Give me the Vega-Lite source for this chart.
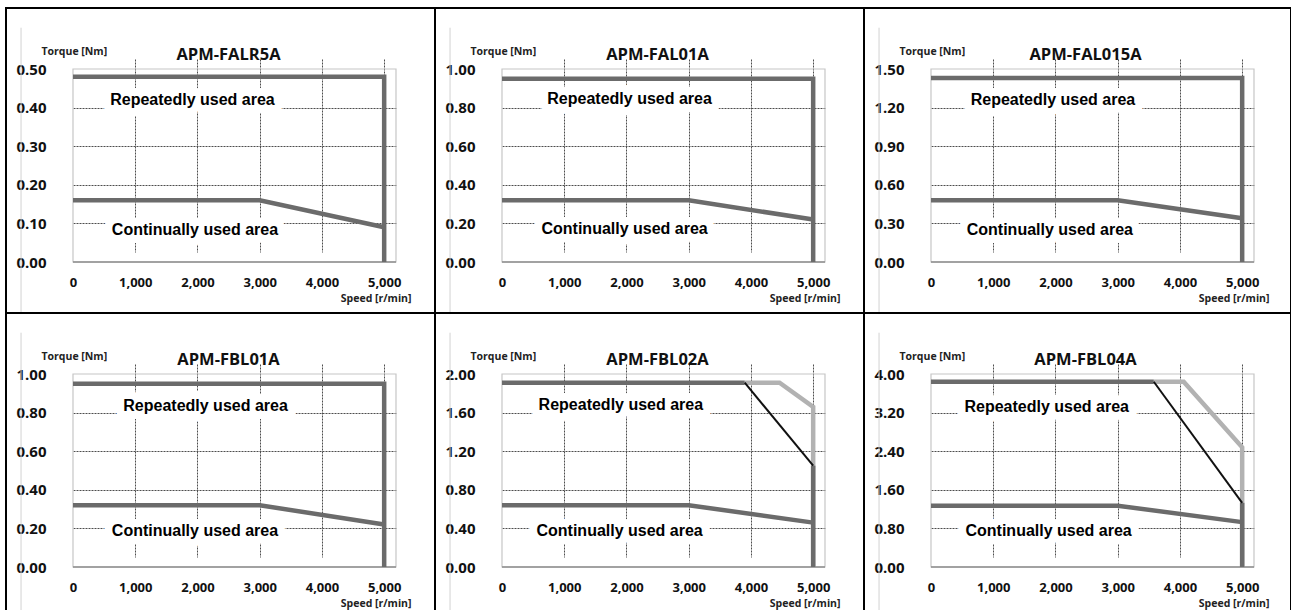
{
  "$schema": "https://vega.github.io/schema/vega-lite/v6.json",
  "background": "white",
  "padding": {"left": 5, "top": 7, "right": 0, "bottom": 0},
  "datasets": {
    "curves": [
      {"panel": "APM-FALR5A", "series": "dark", "seg": "peak", "order": 1, "speed": 0, "torque": 0.48},
      {"panel": "APM-FALR5A", "series": "dark", "seg": "peak", "order": 2, "speed": 5000, "torque": 0.48},
      {"panel": "APM-FALR5A", "series": "dark", "seg": "peak", "order": 3, "speed": 5000, "torque": 0},
      {"panel": "APM-FALR5A", "series": "dark", "seg": "cont", "order": 1, "speed": 0, "torque": 0.16},
      {"panel": "APM-FALR5A", "series": "dark", "seg": "cont", "order": 2, "speed": 3000, "torque": 0.16},
      {"panel": "APM-FALR5A", "series": "dark", "seg": "cont", "order": 3, "speed": 5000, "torque": 0.09},

      {"panel": "APM-FAL01A", "series": "dark", "seg": "peak", "order": 1, "speed": 0, "torque": 0.95},
      {"panel": "APM-FAL01A", "series": "dark", "seg": "peak", "order": 2, "speed": 5000, "torque": 0.95},
      {"panel": "APM-FAL01A", "series": "dark", "seg": "peak", "order": 3, "speed": 5000, "torque": 0},
      {"panel": "APM-FAL01A", "series": "dark", "seg": "cont", "order": 1, "speed": 0, "torque": 0.32},
      {"panel": "APM-FAL01A", "series": "dark", "seg": "cont", "order": 2, "speed": 3000, "torque": 0.32},
      {"panel": "APM-FAL01A", "series": "dark", "seg": "cont", "order": 3, "speed": 5000, "torque": 0.22},

      {"panel": "APM-FAL015A", "series": "dark", "seg": "peak", "order": 1, "speed": 0, "torque": 1.43},
      {"panel": "APM-FAL015A", "series": "dark", "seg": "peak", "order": 2, "speed": 5000, "torque": 1.43},
      {"panel": "APM-FAL015A", "series": "dark", "seg": "peak", "order": 3, "speed": 5000, "torque": 0},
      {"panel": "APM-FAL015A", "series": "dark", "seg": "cont", "order": 1, "speed": 0, "torque": 0.48},
      {"panel": "APM-FAL015A", "series": "dark", "seg": "cont", "order": 2, "speed": 3000, "torque": 0.48},
      {"panel": "APM-FAL015A", "series": "dark", "seg": "cont", "order": 3, "speed": 5000, "torque": 0.34},

      {"panel": "APM-FBL01A", "series": "dark", "seg": "peak", "order": 1, "speed": 0, "torque": 0.95},
      {"panel": "APM-FBL01A", "series": "dark", "seg": "peak", "order": 2, "speed": 5000, "torque": 0.95},
      {"panel": "APM-FBL01A", "series": "dark", "seg": "peak", "order": 3, "speed": 5000, "torque": 0},
      {"panel": "APM-FBL01A", "series": "dark", "seg": "cont", "order": 1, "speed": 0, "torque": 0.32},
      {"panel": "APM-FBL01A", "series": "dark", "seg": "cont", "order": 2, "speed": 3000, "torque": 0.32},
      {"panel": "APM-FBL01A", "series": "dark", "seg": "cont", "order": 3, "speed": 5000, "torque": 0.22},

      {"panel": "APM-FBL02A", "series": "light", "seg": "peak2", "order": 1, "speed": 3900, "torque": 1.91},
      {"panel": "APM-FBL02A", "series": "light", "seg": "peak2", "order": 2, "speed": 4460, "torque": 1.91},
      {"panel": "APM-FBL02A", "series": "light", "seg": "peak2", "order": 3, "speed": 5000, "torque": 1.66},
      {"panel": "APM-FBL02A", "series": "light", "seg": "peak2", "order": 4, "speed": 5000, "torque": 0},
      {"panel": "APM-FBL02A", "series": "dark", "seg": "peak", "order": 1, "speed": 0, "torque": 1.91},
      {"panel": "APM-FBL02A", "series": "dark", "seg": "peak", "order": 2, "speed": 3900, "torque": 1.91},
      {"panel": "APM-FBL02A", "series": "dark", "seg": "peakV", "order": 1, "speed": 5000, "torque": 1.05},
      {"panel": "APM-FBL02A", "series": "dark", "seg": "peakV", "order": 2, "speed": 5000, "torque": 0},
      {"panel": "APM-FBL02A", "series": "dark", "seg": "cont", "order": 1, "speed": 0, "torque": 0.64},
      {"panel": "APM-FBL02A", "series": "dark", "seg": "cont", "order": 2, "speed": 3000, "torque": 0.64},
      {"panel": "APM-FBL02A", "series": "dark", "seg": "cont", "order": 3, "speed": 5000, "torque": 0.46},
      {"panel": "APM-FBL02A", "series": "black", "seg": "peak1", "order": 1, "speed": 3900, "torque": 1.91},
      {"panel": "APM-FBL02A", "series": "black", "seg": "peak1", "order": 2, "speed": 5000, "torque": 1.05},

      {"panel": "APM-FBL04A", "series": "light", "seg": "peak2", "order": 1, "speed": 3580, "torque": 3.84},
      {"panel": "APM-FBL04A", "series": "light", "seg": "peak2", "order": 2, "speed": 4060, "torque": 3.84},
      {"panel": "APM-FBL04A", "series": "light", "seg": "peak2", "order": 3, "speed": 5000, "torque": 2.48},
      {"panel": "APM-FBL04A", "series": "light", "seg": "peak2", "order": 4, "speed": 5000, "torque": 0},
      {"panel": "APM-FBL04A", "series": "dark", "seg": "peak", "order": 1, "speed": 0, "torque": 3.84},
      {"panel": "APM-FBL04A", "series": "dark", "seg": "peak", "order": 2, "speed": 3580, "torque": 3.84},
      {"panel": "APM-FBL04A", "series": "dark", "seg": "peakV", "order": 1, "speed": 5000, "torque": 1.33},
      {"panel": "APM-FBL04A", "series": "dark", "seg": "peakV", "order": 2, "speed": 5000, "torque": 0},
      {"panel": "APM-FBL04A", "series": "dark", "seg": "cont", "order": 1, "speed": 0, "torque": 1.27},
      {"panel": "APM-FBL04A", "series": "dark", "seg": "cont", "order": 2, "speed": 3000, "torque": 1.27},
      {"panel": "APM-FBL04A", "series": "dark", "seg": "cont", "order": 3, "speed": 5000, "torque": 0.93},
      {"panel": "APM-FBL04A", "series": "black", "seg": "peak1", "order": 1, "speed": 3580, "torque": 3.84},
      {"panel": "APM-FBL04A", "series": "black", "seg": "peak1", "order": 2, "speed": 5000, "torque": 1.33}
    ],
    "labels": [
      {"panel": "APM-FALR5A", "label": "Repeatedly used area", "speed": 1920, "torque": 0.42},
      {"panel": "APM-FALR5A", "label": "Continually used area", "speed": 1960, "torque": 0.083},
      {"panel": "APM-FAL01A", "label": "Repeatedly used area", "speed": 2050, "torque": 0.844},
      {"panel": "APM-FAL01A", "label": "Continually used area", "speed": 1970, "torque": 0.17},
      {"panel": "APM-FAL015A", "label": "Repeatedly used area", "speed": 1960, "torque": 1.26},
      {"panel": "APM-FAL015A", "label": "Continually used area", "speed": 1910, "torque": 0.252},
      {"panel": "APM-FBL01A", "label": "Repeatedly used area", "speed": 2130, "torque": 0.833},
      {"panel": "APM-FBL01A", "label": "Continually used area", "speed": 1960, "torque": 0.187},
      {"panel": "APM-FBL02A", "label": "Repeatedly used area", "speed": 1910, "torque": 1.68},
      {"panel": "APM-FBL02A", "label": "Continually used area", "speed": 1890, "torque": 0.374},
      {"panel": "APM-FBL04A", "label": "Repeatedly used area", "speed": 1860, "torque": 3.32},
      {"panel": "APM-FBL04A", "label": "Continually used area", "speed": 1890, "torque": 0.748}
    ]
  },
  "columns": 3,
  "spacing": 0,
  "bounds": "flush",
  "concat": [
    {
      "width": 429, "height": 305,
      "title": {"text": "APM-FALR5A"},
      "layer": [
        {"data": {"values": [{}]}, "mark": {"type": "rect", "filled": false, "color": "#c6c6c6", "strokeWidth": 1.2},
         "encoding": {
           "x": {"datum": 0, "type": "quantitative", "scale": {"domain": [0, 5190], "range": [67, 390], "nice": false, "zero": false},
                 "axis": {"values": [0, 1000, 2000, 3000, 4000, 5000], "labelExpr": "format(datum.value, ',')", "title": "Speed [r/min]", "offset": -51,
                          "gridOpacity": {"condition": {"test": "datum.value === 0", "value": 0}, "value": 1}}},
           "x2": {"datum": 5190},
           "y": {"datum": 0, "type": "quantitative", "scale": {"domain": [0, 0.5], "range": [254, 61], "nice": false, "zero": false},
                 "axis": {"values": [0, 0.1, 0.2, 0.3, 0.4, 0.5], "labelExpr": "format(datum.value, '.2f')", "title": "Torque [Nm]", "offset": -10,
                          "gridOpacity": {"condition": {"test": "datum.index === 0 || datum.index === 1", "value": 0}, "value": 1}}},
           "y2": {"datum": 0.5}}},
        {"data": {"values": [{}]}, "mark": {"type": "rule", "color": "#d2d2d2", "strokeWidth": 1},
         "encoding": {"x": {"datum": -835}, "y": {"datum": 0.607}, "y2": {"datum": -0.135}}},
        {"data": {"values": [{}]}, "mark": {"type": "rule", "color": "#8c8c8c", "strokeWidth": 1.5},
         "encoding": {"x": {"datum": 0}, "x2": {"datum": 5190}, "y": {"datum": 0}}},
        {"data": {"name": "labels"}, "transform": [{"filter": "datum.panel === 'APM-FALR5A'"}],
         "mark": {"type": "text", "font": "Liberation Sans", "fontSize": 16, "fontWeight": "bold", "color": "white", "stroke": "white", "strokeWidth": 16, "strokeJoin": "round", "baseline": "middle"},
         "encoding": {"x": {"field": "speed", "type": "quantitative"}, "y": {"field": "torque", "type": "quantitative"}, "text": {"field": "label"}}},
        {"data": {"name": "labels"}, "transform": [{"filter": "datum.panel === 'APM-FALR5A'"}],
         "mark": {"type": "text", "font": "Liberation Sans", "fontSize": 16, "fontWeight": "bold", "color": "#000", "baseline": "middle"},
         "encoding": {"x": {"field": "speed", "type": "quantitative"}, "y": {"field": "torque", "type": "quantitative"}, "text": {"field": "label"}}},
        {"data": {"name": "curves"}, "transform": [{"filter": "datum.panel === 'APM-FALR5A' && datum.series === 'dark'"}],
         "mark": {"type": "line", "color": "#6b6b6b", "strokeWidth": 4.5},
         "encoding": {"x": {"field": "speed", "type": "quantitative"}, "y": {"field": "torque", "type": "quantitative"}, "detail": {"field": "seg"}, "order": {"field": "order"}}}
      ]
    },
    {
      "width": 429, "height": 305,
      "title": {"text": "APM-FAL01A"},
      "layer": [
        {"data": {"values": [{}]}, "mark": {"type": "rect", "filled": false, "color": "#c6c6c6", "strokeWidth": 1.2},
         "encoding": {
           "x": {"datum": 0, "type": "quantitative", "scale": {"domain": [0, 5190], "range": [67, 390], "nice": false, "zero": false},
                 "axis": {"values": [0, 1000, 2000, 3000, 4000, 5000], "labelExpr": "format(datum.value, ',')", "title": "Speed [r/min]", "offset": -51,
                          "gridOpacity": {"condition": {"test": "datum.value === 0", "value": 0}, "value": 1}}},
           "x2": {"datum": 5190},
           "y": {"datum": 0, "type": "quantitative", "scale": {"domain": [0, 1.0], "range": [254, 61], "nice": false, "zero": false},
                 "axis": {"values": [0, 0.2, 0.4, 0.6, 0.8, 1.0], "labelExpr": "format(datum.value, '.2f')", "title": "Torque [Nm]", "offset": -10,
                          "gridOpacity": {"condition": {"test": "datum.index === 0 || datum.index === 1", "value": 0}, "value": 1}}},
           "y2": {"datum": 1.0}}},
        {"data": {"values": [{}]}, "mark": {"type": "rule", "color": "#d2d2d2", "strokeWidth": 1},
         "encoding": {"x": {"datum": -835}, "y": {"datum": 1.214}, "y2": {"datum": -0.27}}},
        {"data": {"values": [{}]}, "mark": {"type": "rule", "color": "#8c8c8c", "strokeWidth": 1.5},
         "encoding": {"x": {"datum": 0}, "x2": {"datum": 5190}, "y": {"datum": 0}}},
        {"data": {"name": "labels"}, "transform": [{"filter": "datum.panel === 'APM-FAL01A'"}],
         "mark": {"type": "text", "font": "Liberation Sans", "fontSize": 16, "fontWeight": "bold", "color": "white", "stroke": "white", "strokeWidth": 16, "strokeJoin": "round", "baseline": "middle"},
         "encoding": {"x": {"field": "speed", "type": "quantitative"}, "y": {"field": "torque", "type": "quantitative"}, "text": {"field": "label"}}},
        {"data": {"name": "labels"}, "transform": [{"filter": "datum.panel === 'APM-FAL01A'"}],
         "mark": {"type": "text", "font": "Liberation Sans", "fontSize": 16, "fontWeight": "bold", "color": "#000", "baseline": "middle"},
         "encoding": {"x": {"field": "speed", "type": "quantitative"}, "y": {"field": "torque", "type": "quantitative"}, "text": {"field": "label"}}},
        {"data": {"name": "curves"}, "transform": [{"filter": "datum.panel === 'APM-FAL01A' && datum.series === 'dark'"}],
         "mark": {"type": "line", "color": "#6b6b6b", "strokeWidth": 4.5},
         "encoding": {"x": {"field": "speed", "type": "quantitative"}, "y": {"field": "torque", "type": "quantitative"}, "detail": {"field": "seg"}, "order": {"field": "order"}}}
      ]
    },
    {
      "width": 427, "height": 305,
      "title": {"text": "APM-FAL015A"},
      "layer": [
        {"data": {"values": [{}]}, "mark": {"type": "rect", "filled": false, "color": "#c6c6c6", "strokeWidth": 1.2},
         "encoding": {
           "x": {"datum": 0, "type": "quantitative", "scale": {"domain": [0, 5190], "range": [67, 390], "nice": false, "zero": false},
                 "axis": {"values": [0, 1000, 2000, 3000, 4000, 5000], "labelExpr": "format(datum.value, ',')", "title": "Speed [r/min]", "offset": -51,
                          "gridOpacity": {"condition": {"test": "datum.value === 0", "value": 0}, "value": 1}}},
           "x2": {"datum": 5190},
           "y": {"datum": 0, "type": "quantitative", "scale": {"domain": [0, 1.5], "range": [254, 61], "nice": false, "zero": false},
                 "axis": {"values": [0, 0.3, 0.6, 0.9, 1.2, 1.5], "labelExpr": "format(datum.value, '.2f')", "title": "Torque [Nm]", "offset": -10,
                          "gridOpacity": {"condition": {"test": "datum.index === 0 || datum.index === 1", "value": 0}, "value": 1}}},
           "y2": {"datum": 1.5}}},
        {"data": {"values": [{}]}, "mark": {"type": "rule", "color": "#d2d2d2", "strokeWidth": 1},
         "encoding": {"x": {"datum": -835}, "y": {"datum": 1.821}, "y2": {"datum": -0.405}}},
        {"data": {"values": [{}]}, "mark": {"type": "rule", "color": "#8c8c8c", "strokeWidth": 1.5},
         "encoding": {"x": {"datum": 0}, "x2": {"datum": 5190}, "y": {"datum": 0}}},
        {"data": {"name": "labels"}, "transform": [{"filter": "datum.panel === 'APM-FAL015A'"}],
         "mark": {"type": "text", "font": "Liberation Sans", "fontSize": 16, "fontWeight": "bold", "color": "white", "stroke": "white", "strokeWidth": 16, "strokeJoin": "round", "baseline": "middle"},
         "encoding": {"x": {"field": "speed", "type": "quantitative"}, "y": {"field": "torque", "type": "quantitative"}, "text": {"field": "label"}}},
        {"data": {"name": "labels"}, "transform": [{"filter": "datum.panel === 'APM-FAL015A'"}],
         "mark": {"type": "text", "font": "Liberation Sans", "fontSize": 16, "fontWeight": "bold", "color": "#000", "baseline": "middle"},
         "encoding": {"x": {"field": "speed", "type": "quantitative"}, "y": {"field": "torque", "type": "quantitative"}, "text": {"field": "label"}}},
        {"data": {"name": "curves"}, "transform": [{"filter": "datum.panel === 'APM-FAL015A' && datum.series === 'dark'"}],
         "mark": {"type": "line", "color": "#6b6b6b", "strokeWidth": 4.5},
         "encoding": {"x": {"field": "speed", "type": "quantitative"}, "y": {"field": "torque", "type": "quantitative"}, "detail": {"field": "seg"}, "order": {"field": "order"}}}
      ]
    },
    {
      "width": 429, "height": 305,
      "title": {"text": "APM-FBL01A"},
      "layer": [
        {"data": {"values": [{}]}, "mark": {"type": "rect", "filled": false, "color": "#c6c6c6", "strokeWidth": 1.2},
         "encoding": {
           "x": {"datum": 0, "type": "quantitative", "scale": {"domain": [0, 5190], "range": [67, 390], "nice": false, "zero": false},
                 "axis": {"values": [0, 1000, 2000, 3000, 4000, 5000], "labelExpr": "format(datum.value, ',')", "title": "Speed [r/min]", "offset": -51,
                          "gridOpacity": {"condition": {"test": "datum.value === 0", "value": 0}, "value": 1}}},
           "x2": {"datum": 5190},
           "y": {"datum": 0, "type": "quantitative", "scale": {"domain": [0, 1.0], "range": [254, 61], "nice": false, "zero": false},
                 "axis": {"values": [0, 0.2, 0.4, 0.6, 0.8, 1.0], "labelExpr": "format(datum.value, '.2f')", "title": "Torque [Nm]", "offset": -10,
                          "gridOpacity": {"condition": {"test": "datum.index === 0 || datum.index === 1", "value": 0}, "value": 1}}},
           "y2": {"datum": 1.0}}},
        {"data": {"values": [{}]}, "mark": {"type": "rule", "color": "#d2d2d2", "strokeWidth": 1},
         "encoding": {"x": {"datum": -835}, "y": {"datum": 1.214}, "y2": {"datum": -0.27}}},
        {"data": {"values": [{}]}, "mark": {"type": "rule", "color": "#8c8c8c", "strokeWidth": 1.5},
         "encoding": {"x": {"datum": 0}, "x2": {"datum": 5190}, "y": {"datum": 0}}},
        {"data": {"name": "labels"}, "transform": [{"filter": "datum.panel === 'APM-FBL01A'"}],
         "mark": {"type": "text", "font": "Liberation Sans", "fontSize": 16, "fontWeight": "bold", "color": "white", "stroke": "white", "strokeWidth": 16, "strokeJoin": "round", "baseline": "middle"},
         "encoding": {"x": {"field": "speed", "type": "quantitative"}, "y": {"field": "torque", "type": "quantitative"}, "text": {"field": "label"}}},
        {"data": {"name": "labels"}, "transform": [{"filter": "datum.panel === 'APM-FBL01A'"}],
         "mark": {"type": "text", "font": "Liberation Sans", "fontSize": 16, "fontWeight": "bold", "color": "#000", "baseline": "middle"},
         "encoding": {"x": {"field": "speed", "type": "quantitative"}, "y": {"field": "torque", "type": "quantitative"}, "text": {"field": "label"}}},
        {"data": {"name": "curves"}, "transform": [{"filter": "datum.panel === 'APM-FBL01A' && datum.series === 'dark'"}],
         "mark": {"type": "line", "color": "#6b6b6b", "strokeWidth": 4.5},
         "encoding": {"x": {"field": "speed", "type": "quantitative"}, "y": {"field": "torque", "type": "quantitative"}, "detail": {"field": "seg"}, "order": {"field": "order"}}}
      ]
    },
    {
      "width": 429, "height": 305,
      "title": {"text": "APM-FBL02A"},
      "layer": [
        {"data": {"values": [{}]}, "mark": {"type": "rect", "filled": false, "color": "#c6c6c6", "strokeWidth": 1.2},
         "encoding": {
           "x": {"datum": 0, "type": "quantitative", "scale": {"domain": [0, 5190], "range": [67, 390], "nice": false, "zero": false},
                 "axis": {"values": [0, 1000, 2000, 3000, 4000, 5000], "labelExpr": "format(datum.value, ',')", "title": "Speed [r/min]", "offset": -51,
                          "gridOpacity": {"condition": {"test": "datum.value === 0", "value": 0}, "value": 1}}},
           "x2": {"datum": 5190},
           "y": {"datum": 0, "type": "quantitative", "scale": {"domain": [0, 2.0], "range": [254, 61], "nice": false, "zero": false},
                 "axis": {"values": [0, 0.4, 0.8, 1.2, 1.6, 2.0], "labelExpr": "format(datum.value, '.2f')", "title": "Torque [Nm]", "offset": -10,
                          "gridOpacity": {"condition": {"test": "datum.index === 0 || datum.index === 1", "value": 0}, "value": 1}}},
           "y2": {"datum": 2.0}}},
        {"data": {"values": [{}]}, "mark": {"type": "rule", "color": "#d2d2d2", "strokeWidth": 1},
         "encoding": {"x": {"datum": -835}, "y": {"datum": 2.428}, "y2": {"datum": -0.54}}},
        {"data": {"values": [{}]}, "mark": {"type": "rule", "color": "#8c8c8c", "strokeWidth": 1.5},
         "encoding": {"x": {"datum": 0}, "x2": {"datum": 5190}, "y": {"datum": 0}}},
        {"data": {"name": "labels"}, "transform": [{"filter": "datum.panel === 'APM-FBL02A'"}],
         "mark": {"type": "text", "font": "Liberation Sans", "fontSize": 16, "fontWeight": "bold", "color": "white", "stroke": "white", "strokeWidth": 16, "strokeJoin": "round", "baseline": "middle"},
         "encoding": {"x": {"field": "speed", "type": "quantitative"}, "y": {"field": "torque", "type": "quantitative"}, "text": {"field": "label"}}},
        {"data": {"name": "labels"}, "transform": [{"filter": "datum.panel === 'APM-FBL02A'"}],
         "mark": {"type": "text", "font": "Liberation Sans", "fontSize": 16, "fontWeight": "bold", "color": "#000", "baseline": "middle"},
         "encoding": {"x": {"field": "speed", "type": "quantitative"}, "y": {"field": "torque", "type": "quantitative"}, "text": {"field": "label"}}},
        {"data": {"name": "curves"}, "transform": [{"filter": "datum.panel === 'APM-FBL02A' && datum.series === 'light'"}],
         "mark": {"type": "line", "color": "#b2b2b2", "strokeWidth": 4.5},
         "encoding": {"x": {"field": "speed", "type": "quantitative"}, "y": {"field": "torque", "type": "quantitative"}, "detail": {"field": "seg"}, "order": {"field": "order"}}},
        {"data": {"name": "curves"}, "transform": [{"filter": "datum.panel === 'APM-FBL02A' && datum.series === 'dark'"}],
         "mark": {"type": "line", "color": "#6b6b6b", "strokeWidth": 4.5},
         "encoding": {"x": {"field": "speed", "type": "quantitative"}, "y": {"field": "torque", "type": "quantitative"}, "detail": {"field": "seg"}, "order": {"field": "order"}}},
        {"data": {"name": "curves"}, "transform": [{"filter": "datum.panel === 'APM-FBL02A' && datum.series === 'black'"}],
         "mark": {"type": "line", "color": "#111111", "strokeWidth": 2},
         "encoding": {"x": {"field": "speed", "type": "quantitative"}, "y": {"field": "torque", "type": "quantitative"}, "detail": {"field": "seg"}, "order": {"field": "order"}}}
      ]
    },
    {
      "width": 427, "height": 305,
      "title": {"text": "APM-FBL04A"},
      "layer": [
        {"data": {"values": [{}]}, "mark": {"type": "rect", "filled": false, "color": "#c6c6c6", "strokeWidth": 1.2},
         "encoding": {
           "x": {"datum": 0, "type": "quantitative", "scale": {"domain": [0, 5190], "range": [67, 390], "nice": false, "zero": false},
                 "axis": {"values": [0, 1000, 2000, 3000, 4000, 5000], "labelExpr": "format(datum.value, ',')", "title": "Speed [r/min]", "offset": -51,
                          "gridOpacity": {"condition": {"test": "datum.value === 0", "value": 0}, "value": 1}}},
           "x2": {"datum": 5190},
           "y": {"datum": 0, "type": "quantitative", "scale": {"domain": [0, 4.0], "range": [254, 61], "nice": false, "zero": false},
                 "axis": {"values": [0, 0.8, 1.6, 2.4, 3.2, 4.0], "labelExpr": "format(datum.value, '.2f')", "title": "Torque [Nm]", "offset": -10,
                          "gridOpacity": {"condition": {"test": "datum.index === 0 || datum.index === 1", "value": 0}, "value": 1}}},
           "y2": {"datum": 4.0}}},
        {"data": {"values": [{}]}, "mark": {"type": "rule", "color": "#d2d2d2", "strokeWidth": 1},
         "encoding": {"x": {"datum": -835}, "y": {"datum": 4.856}, "y2": {"datum": -1.08}}},
        {"data": {"values": [{}]}, "mark": {"type": "rule", "color": "#8c8c8c", "strokeWidth": 1.5},
         "encoding": {"x": {"datum": 0}, "x2": {"datum": 5190}, "y": {"datum": 0}}},
        {"data": {"name": "labels"}, "transform": [{"filter": "datum.panel === 'APM-FBL04A'"}],
         "mark": {"type": "text", "font": "Liberation Sans", "fontSize": 16, "fontWeight": "bold", "color": "white", "stroke": "white", "strokeWidth": 16, "strokeJoin": "round", "baseline": "middle"},
         "encoding": {"x": {"field": "speed", "type": "quantitative"}, "y": {"field": "torque", "type": "quantitative"}, "text": {"field": "label"}}},
        {"data": {"name": "labels"}, "transform": [{"filter": "datum.panel === 'APM-FBL04A'"}],
         "mark": {"type": "text", "font": "Liberation Sans", "fontSize": 16, "fontWeight": "bold", "color": "#000", "baseline": "middle"},
         "encoding": {"x": {"field": "speed", "type": "quantitative"}, "y": {"field": "torque", "type": "quantitative"}, "text": {"field": "label"}}},
        {"data": {"name": "curves"}, "transform": [{"filter": "datum.panel === 'APM-FBL04A' && datum.series === 'light'"}],
         "mark": {"type": "line", "color": "#b2b2b2", "strokeWidth": 4.5},
         "encoding": {"x": {"field": "speed", "type": "quantitative"}, "y": {"field": "torque", "type": "quantitative"}, "detail": {"field": "seg"}, "order": {"field": "order"}}},
        {"data": {"name": "curves"}, "transform": [{"filter": "datum.panel === 'APM-FBL04A' && datum.series === 'dark'"}],
         "mark": {"type": "line", "color": "#6b6b6b", "strokeWidth": 4.5},
         "encoding": {"x": {"field": "speed", "type": "quantitative"}, "y": {"field": "torque", "type": "quantitative"}, "detail": {"field": "seg"}, "order": {"field": "order"}}},
        {"data": {"name": "curves"}, "transform": [{"filter": "datum.panel === 'APM-FBL04A' && datum.series === 'black'"}],
         "mark": {"type": "line", "color": "#111111", "strokeWidth": 2},
         "encoding": {"x": {"field": "speed", "type": "quantitative"}, "y": {"field": "torque", "type": "quantitative"}, "detail": {"field": "seg"}, "order": {"field": "order"}}}
      ]
    }
  ],
  "config": {
    "view": {"stroke": "#000000", "strokeWidth": 2},
    "axis": {
      "ticks": false, "domain": false, "grid": true,
      "gridColor": "#4d4d4d", "gridDash": [2, 1], "gridWidth": 1,
      "labelFont": "Open Sans", "labelFontWeight": "bold", "labelColor": "#111111", "labelFlush": false, "labelOverlap": false,
      "titleFont": "Open Sans", "titleFontWeight": "bold", "titleColor": "#222222", "titleFontSize": 10.5, "titleAngle": 0
    },
    "axisX": {
      "labelFontSize": 13, "labelPadding": 14, "labelAlign": "center", "labelBaseline": "top",
      "titleX": 405, "titleY": 39, "titleAlign": "right", "titleBaseline": "alphabetic"
    },
    "axisY": {
      "labelFontSize": 15, "labelPadding": 0, "labelAlign": "left", "labelBaseline": "middle",
      "titleX": 25, "titleY": 46, "titleAlign": "left", "titleBaseline": "alphabetic"
    },
    "title": {
      "font": "Open Sans", "fontSize": 16.5, "fontWeight": "bold", "color": "#111111",
      "anchor": "middle", "frame": "group", "offset": -55, "baseline": "alphabetic", "dx": 8
    }
  }
}
